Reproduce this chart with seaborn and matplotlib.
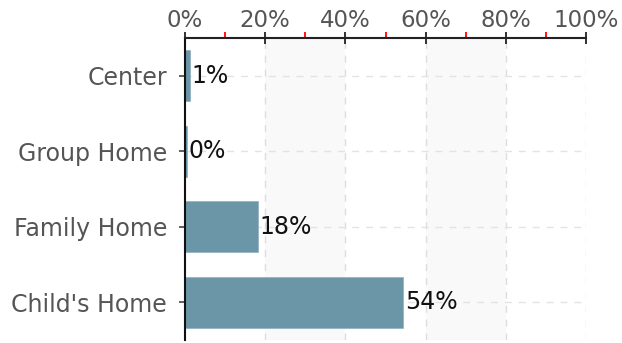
import matplotlib
matplotlib.use("Agg")
import matplotlib.pyplot as plt
import seaborn as sns
import pandas as pd
from matplotlib.ticker import MultipleLocator, FuncFormatter

categories = ["Center", "Group Home", "Family Home", "Child's Home"]
values = [1.2, 0.4, 18.2, 54.4]
labels = ["1%", "0%", "18%", "54%"]
xticks = [0, 20, 40, 60, 80, 100]

sns.set_theme(style="white")
plt.rcParams['font.family'] = ['DejaVu Sans']

df = pd.DataFrame({"category": categories, "value": values})

fig = plt.figure(figsize=(6.22, 3.43), dpi=100)
ax = fig.add_axes([185/622, 1 - 340/343, (586-185)/622, (340-38)/343])

# alternating bands
for i in range(len(xticks) - 1):
    if i % 2 == 1:
        ax.axvspan(xticks[i], xticks[i+1], color="#f9f9f9", zorder=0, lw=0)
for x in xticks[1:]:
    ax.axvline(x, color="#dddddd", ls=(0, (5, 5)), lw=1, zorder=0.5)
for j in range(len(categories)):
    ax.axhline(j, color="#e3e3e3", ls=(0, (5, 5)), lw=1, zorder=0.5)

sns.barplot(data=df, y="category", x="value", orient="h", color="#6a96a8",
            saturation=1, width=0.68, ax=ax, zorder=2, edgecolor="#8fb0bd", linewidth=0.5)

for j, (v, lab) in enumerate(zip(values, labels)):
    ax.text(v + 0.4, j, lab, va="center", ha="left", fontsize=17, color="#111111", zorder=3)

ax.set_xlim(0, 100)
ax.set_ylim(3.5, -0.5)
ax.set_xlabel("")
ax.set_ylabel("")
ax.xaxis.tick_top()
ax.set_xticks(xticks)
ax.xaxis.set_major_formatter(FuncFormatter(lambda v, p: f"{int(v)}%"))
ax.xaxis.set_minor_locator(MultipleLocator(10))
ax.tick_params(axis="x", which="major", direction="inout", length=9, width=1.3,
               color="#222222", labelsize=16.5, labelcolor="#555555", pad=0)
ax.tick_params(axis="x", which="minor", direction="out", length=4, width=1.3, color="#ff0000")
ax.xaxis.set_minor_formatter(FuncFormatter(lambda v, p: ""))
ax.tick_params(axis="y", which="major", left=True, direction="out", length=4, width=1.2,
               color="#444444", labelsize=17, labelcolor="#555555", pad=9)

for s in ["right", "bottom"]:
    ax.spines[s].set_visible(False)
ax.spines["top"].set_color("#222222")
ax.spines["top"].set_linewidth(1.5)
ax.spines["left"].set_color("#111111")
ax.spines["left"].set_linewidth(1.5)
ax.grid(False)

fig.savefig("out.png", dpi=100)
